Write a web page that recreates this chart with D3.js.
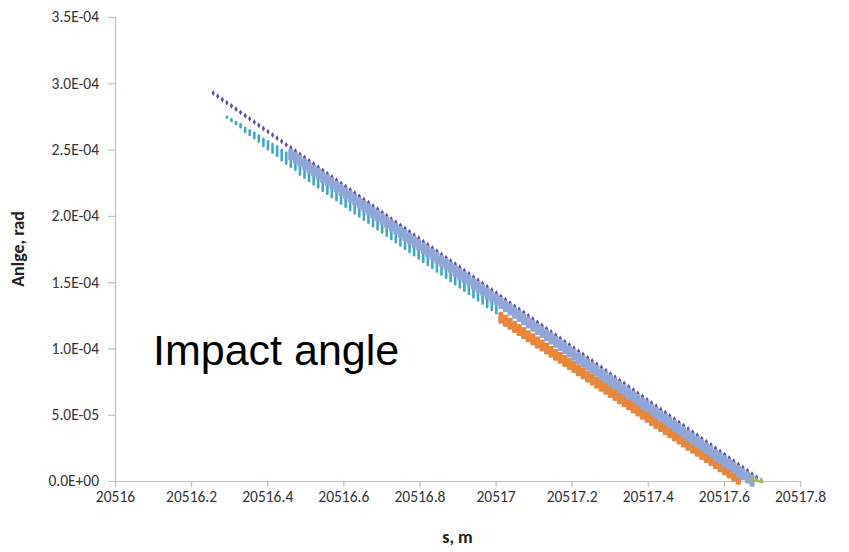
<!DOCTYPE html>
<html>
<head>
<meta charset="utf-8">
<script src="https://cdn.jsdelivr.net/npm/d3@7"></script>
<style>
  body { margin: 0; background: #fff; }
  svg { display: block; }
</style>
</head>
<body>
<svg id="chart" width="849" height="552"></svg>
<script>
// Track position of each computed station, in metres past S0.
const S0 = 20516;
const stationOffsets = [
  0.258,0.270,0.282,0.294,0.306,0.318,0.330,0.342,0.354,0.366,
  0.378,0.390,0.402,0.414,0.426,0.438,0.450,0.462,0.474,0.486,
  0.498,0.510,0.522,0.534,0.546,0.558,0.570,0.582,0.594,0.606,
  0.618,0.630,0.642,0.654,0.666,0.678,0.690,0.702,0.714,0.726,
  0.738,0.750,0.762,0.774,0.786,0.798,0.810,0.822,0.834,0.846,
  0.858,0.870,0.882,0.894,0.906,0.918,0.930,0.942,0.954,0.966,
  0.978,0.990,1.002,1.014,1.026,1.038,1.050,1.062,1.074,1.086,
  1.098,1.110,1.122,1.134,1.146,1.158,1.170,1.182,1.194,1.206,
  1.218,1.230,1.242,1.254,1.266,1.278,1.290,1.302,1.314,1.326,
  1.338,1.350,1.362,1.374,1.386,1.398,1.410,1.422,1.434,1.446,
  1.458,1.470,1.482,1.494,1.506,1.518,1.530,1.542,1.554,1.566,
  1.578,1.590,1.602,1.614,1.626,1.638,1.650,1.662,1.674,1.686,
  1.698
];

// Impact angles in microradians; each series begins at the given station index.
const purpleFrom = 0;
const purpleAngle = [
  292.7,290.3,287.8,285.4,283.0,280.5,278.1,275.6,273.2,270.8,
  268.3,265.9,263.5,261.0,258.6,256.2,253.7,251.3,248.9,246.4,
  244.0,241.5,239.1,236.7,234.2,231.8,229.4,226.9,224.5,222.1,
  219.6,217.2,214.7,212.3,209.9,207.4,205.0,202.6,200.1,197.7,
  195.3,192.8,190.4,188.0,185.5,183.1,180.6,178.2,175.8,173.3,
  170.9,168.5,166.0,163.6,161.2,158.7,156.3,153.8,151.4,149.0,
  146.5,144.1,141.7,139.2,136.8,134.4,131.9,129.5,127.1,124.6,
  122.2,119.7,117.3,114.9,112.4,110.0,107.6,105.1,102.7,100.3,
  97.8,95.4,92.9,90.5,88.1,85.6,83.2,80.8,78.3,75.9,
  73.5,71.0,68.6,66.1,63.7,61.3,58.8,56.4,54.0,51.5,
  49.1,46.7,44.2,41.8,39.3,36.9,34.5,32.0,29.6,27.2,
  24.7,22.3,19.9,17.4,15.0,12.5,10.1,7.7,5.2,2.8,
  0.4
];

// Teal family: lowest and highest angle found at each station.
const tealFrom = 3;
const tealLow = [
  274.4,272.0,269.5,267.1,263.6,261.2,258.8,256.3,252.9,250.5,
  248.0,245.6,242.2,239.7,237.3,234.9,231.4,229.0,226.5,224.1,
  221.7,219.2,216.8,214.4,211.9,209.5,207.1,204.6,202.2,199.7,
  197.3,194.9,192.4,190.0,187.6,185.1,182.7,180.3,177.8,175.4,
  173.0,170.5,168.1,165.6,163.2,160.8,158.3,155.9,153.5,151.0,
  148.6,146.2,143.7,141.3,138.8,136.4,134.0,131.5,129.1,126.7
];
const tealHigh = [
  274.4,272.6,270.7,268.9,266.0,264.2,262.4,260.5,257.7,255.9,
  254.0,252.2,249.4,247.5,245.3,242.9,239.4,237.0,234.5,232.1,
  229.7,227.2,224.8,222.4,219.9,217.5,215.1,212.6,210.2,207.7,
  205.3,202.9,200.4,198.0,195.6,193.1,190.7,188.3,185.8,183.4,
  181.0,178.5,176.1,173.6,171.2,168.8,166.3,163.9,161.5,159.0,
  156.6,154.2,151.7,149.3,146.8,144.4,142.0,139.5,137.1,134.7
];

const orangeFrom = 63;
const orangeAngle = [
  123.2,120.9,118.6,116.2,113.9,111.6,109.2,106.9,104.5,102.2,
  99.9,97.5,95.2,92.9,90.5,88.2,85.9,83.5,81.2,78.8,
  76.5,74.2,71.8,69.5,67.2,64.8,62.5,60.2,57.8,55.5,
  53.1,50.8,48.5,46.1,43.8,41.5,39.1,36.8,34.5,32.1,
  29.8,27.4,25.1,22.8,20.4,18.1,15.8,13.4,11.1,8.8,
  6.4,4.1,1.7
];

const blueFrom = 17;
const blueAngle = [
  246.3,243.9,241.4,239.0,236.5,234.1,231.7,229.2,226.8,224.4,
  221.9,219.5,217.1,214.6,212.2,209.7,207.3,204.9,202.4,200.0,
  197.6,195.1,192.7,190.3,187.8,185.4,183.0,180.5,178.1,175.6,
  173.2,170.8,168.3,165.9,163.5,161.0,158.6,156.2,153.7,151.3,
  148.8,146.4,144.0,141.5,139.1,136.7,134.2,131.8,129.4,126.9,
  124.5,122.1,119.6,117.2,114.7,112.3,109.9,107.4,105.0,102.6,
  100.1,97.7,95.3,92.8,90.4,87.9,85.5,83.1,80.6,78.2,
  75.8,73.3,70.9,68.5,66.0,63.6,61.1,58.7,56.3,53.8,
  51.4,49.0,46.5,44.1,41.7,39.2,36.8,34.3,31.9,29.5,
  27.0,24.6,22.2,19.7,17.3,14.9,12.4,10.0,7.5,5.1,
  2.7,0.2
];

const greenFrom = 118;
const greenAngle = [1.2, 0.6, 0.1];

// Axis ticks
const sTicks = [20516, 20516.2, 20516.4, 20516.6, 20516.8, 20517, 20517.2, 20517.4, 20517.6, 20517.8];
const sTickLabels = ["20516", "20516.2", "20516.4", "20516.6", "20516.8", "20517", "20517.2", "20517.4", "20517.6", "20517.8"];
const angleTicks = [0, 5e-5, 1e-4, 1.5e-4, 2e-4, 2.5e-4, 3e-4, 3.5e-4];
const angleTickLabels = ["0.0E+00", "5.0E-05", "1.0E-04", "1.5E-04", "2.0E-04", "2.5E-04", "3.0E-04", "3.5E-04"];

// ---- layout ----
const svg = d3.select("#chart");
const plot = { left: 115, right: 800, top: 17, bottom: 481 };
const labelFont = "'Carlito', 'Calibri', 'Noto Sans', sans-serif";

const x = d3.scaleLinear().domain([20516, 20517.8]).range([plot.left, plot.right]);
const y = d3.scaleLinear().domain([0, 3.5e-4]).range([plot.bottom, plot.top]);

const toPoints = (from, values) =>
  values.map((a, k) => ({ s: S0 + stationOffsets[from + k], a: a * 1e-6 }));

// axes
const yAxis = d3.axisLeft(y).tickValues(angleTicks)
  .tickFormat((d, i) => angleTickLabels[i]).tickSize(7).tickPadding(9);
const xAxis = d3.axisBottom(x).tickValues(sTicks)
  .tickFormat((d, i) => sTickLabels[i]).tickSize(6).tickPadding(4);

function styleAxis(g) {
  g.select(".domain").attr("stroke", "#bfbfbf").attr("stroke-width", 1.2);
  g.selectAll(".tick line").attr("stroke", "#bfbfbf").attr("stroke-width", 1.2);
  g.selectAll(".tick text").attr("fill", "#333").style("font-family", labelFont).style("font-size", "15.5px");
}
svg.append("g").attr("transform", `translate(${plot.left},0)`).call(yAxis).call(styleAxis);
svg.append("g").attr("transform", `translate(0,${plot.bottom})`).call(xAxis).call(styleAxis);

// axis titles
svg.append("text")
  .attr("transform", `translate(24,${(plot.top + plot.bottom) / 2}) rotate(-90)`)
  .attr("text-anchor", "middle")
  .style("font-family", labelFont).style("font-weight", "bold").style("font-size", "18px")
  .attr("fill", "#222")
  .text("Anlge, rad");
svg.append("text")
  .attr("x", (plot.left + plot.right) / 2).attr("y", 543)
  .attr("text-anchor", "middle")
  .style("font-family", labelFont).style("font-weight", "bold").style("font-size", "18px")
  .attr("fill", "#222")
  .text("s, m");

// ---- marks ----
const marks = svg.append("g");

// purple: small diamonds along the upper edge
marks.append("g").selectAll("path")
  .data(toPoints(purpleFrom, purpleAngle))
  .join("path")
  .attr("d", d3.symbol(d3.symbolDiamond, 10))
  .attr("transform", d => `translate(${x(d.s)},${y(d.a)})`)
  .attr("fill", "#5f50a0");

// teal: vertical dashes spanning the low/high spread at each station
const tealPts = tealLow.map((lo, k) => ({
  s: S0 + stationOffsets[tealFrom + k], lo: lo * 1e-6, hi: tealHigh[k] * 1e-6
}));
marks.append("g").selectAll("rect")
  .data(tealPts)
  .join("rect")
  .attr("x", d => x(d.s) - 1.3)
  .attr("width", 2.6)
  .attr("y", d => y(d.hi) - 1.5)
  .attr("height", d => y(d.lo) - y(d.hi) + 3)
  .attr("rx", 1)
  .attr("fill", "#3fa8c6");

// orange: dense tall markers below the band
marks.append("g").selectAll("rect")
  .data(toPoints(orangeFrom, orangeAngle))
  .join("rect")
  .attr("x", d => x(d.s) - 2.6)
  .attr("width", 5.2)
  .attr("y", d => y(d.a) - 6)
  .attr("height", 12)
  .attr("rx", 1.5)
  .attr("fill", "#e8863a");

// light blue: the broad band of overlapping markers
marks.append("g").selectAll("rect")
  .data(toPoints(blueFrom, blueAngle))
  .join("rect")
  .attr("x", d => x(d.s) - 2.6)
  .attr("width", 5.2)
  .attr("y", d => y(d.a) - 6)
  .attr("height", 12)
  .attr("rx", 1.5)
  .attr("fill", "#8ea7d8");

// green: last few points at the end of the run
marks.append("g").selectAll("path")
  .data(toPoints(greenFrom, greenAngle))
  .join("path")
  .attr("d", d3.symbol(d3.symbolTriangle, 18))
  .attr("transform", d => `translate(${x(d.s)},${y(d.a)})`)
  .attr("fill", "#9bbb59");

// annotation
svg.append("text")
  .attr("x", 153).attr("y", 365)
  .style("font-family", "'Liberation Sans', Arial, sans-serif")
  .style("font-size", "43px")
  .attr("fill", "#000")
  .text("Impact angle");
</script>
</body>
</html>
